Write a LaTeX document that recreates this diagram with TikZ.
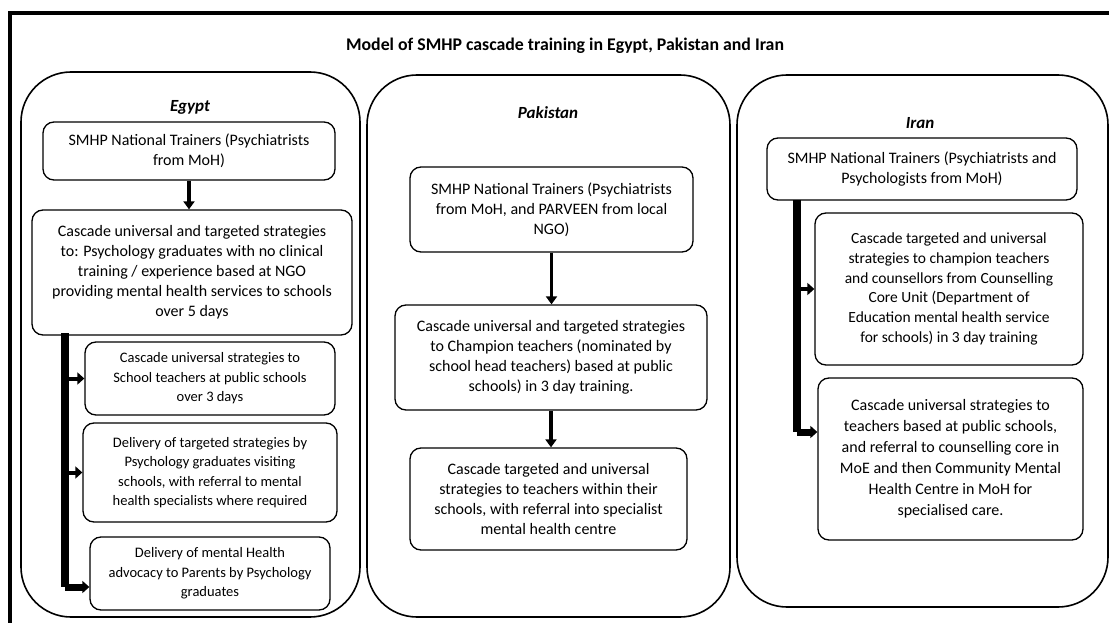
\documentclass[tikz,border=0pt]{standalone}
\usepackage{fontspec}
\setmainfont{Carlito}
\usetikzlibrary{arrows.meta}
\tikzset{panel/.style={draw, rounded corners=50pt, line width=1.6pt}}
\tikzset{paneltitle/.style={font=\fontsize{17}{19}\selectfont\bfseries\itshape}}
\tikzset{trainbox/.style={draw, rounded corners=11pt, line width=1.3pt, align=center, inner sep=2pt, font=\fontsize{16}{20}\selectfont}}
\tikzset{smalltext/.style={font=\fontsize{14.5}{19.4}\selectfont}}
\tikzset{flow/.style={line width=3.5pt, -{Triangle[width=11pt,length=8pt]}}}
\tikzset{bus/.style={line width=8pt}}
\tikzset{branch/.style={line width=4pt, -{Triangle[width=12pt,length=7pt]}}}

\begin{document}
\begin{tikzpicture}[x=1pt,y=-1pt]
  \useasboundingbox (0,0) rectangle (1109,623);
  \draw[line width=4pt] (10,623) -- (10,13) -- (1109,13);

  \node (title) at (565,46) [font=\fontsize{17.8}{20}\selectfont\bfseries] {Model of SMHP cascade training in Egypt, Pakistan and Iran};

  \node (egypt) at (190.5,344.5) [panel, minimum width=339pt, minimum height=545pt] {};
  \node (pakistan) at (548.5,346) [panel, minimum width=363pt, minimum height=542pt] {};
  \node (iran) at (922.5,341) [panel, minimum width=371pt, minimum height=532pt] {};

  \node (egyptT) at (190,107) [paneltitle] {Egypt};
  \node (pakistanT) at (548,113) [paneltitle] {Pakistan};
  \node (iranT) at (920,123) [paneltitle] {Iran};

  \node (E1) at (189,151) [trainbox, minimum width=292pt, minimum height=58pt] {SMHP National Trainers (Psychiatrists\\from MoH)};
  \node (E2) at (192,272.5) [trainbox, minimum width=320pt, minimum height=125pt] {Cascade universal and targeted strategies\\to: Psychology graduates with no clinical\\training / experience based at NGO\\providing mental health services to schools\\over 5 days};
  \node (E3) at (210,378.5) [trainbox, smalltext, minimum width=250pt, minimum height=73pt] {Cascade universal strategies to\\School teachers at public schools\\over 3 days};
  \node (E4) at (210,472.5) [trainbox, smalltext, minimum width=254pt, minimum height=99pt] {Delivery of targeted strategies by\\Psychology graduates visiting\\schools, with referral to mental\\health specialists where required};
  \node (E5) at (210,573.5) [trainbox, smalltext, minimum width=240pt, minimum height=73pt] {Delivery of mental Health\\advocacy to Parents by Psychology\\graduates};

  \node (P1) at (551.5,209.5) [trainbox, minimum width=283pt, minimum height=85pt] {SMHP National Trainers (Psychiatrists\\from MoH, and PARVEEN from local\\NGO)};
  \node (P2) at (551,357.5) [trainbox, minimum width=312pt, minimum height=105pt] {Cascade universal and targeted strategies\\to Champion teachers (nominated by\\school head teachers) based at public\\schools) in 3 day training.};
  \node (P3) at (548.5,499) [trainbox, minimum width=277pt, minimum height=102pt] {Cascade targeted and universal\\strategies to teachers within their\\schools, with referral into specialist\\mental health centre};

  \node (I1) at (922,169) [trainbox, minimum width=310pt, minimum height=62pt] {SMHP National Trainers (Psychiatrists and\\Psychologists from MoH)};
  \node (I2) at (949,289) [trainbox, font=\fontsize{15.5}{19.8}\selectfont, minimum width=268pt, minimum height=152pt] {Cascade targeted and universal\\strategies to champion teachers\\and counsellors from Counselling\\Core Unit (Department of\\Education mental health service\\for schools) in 3 day training};
  \node (I3) at (950.5,459) [trainbox, font=\fontsize{16}{21}\selectfont, minimum width=265pt, minimum height=162pt] {Cascade universal strategies to\\teachers based at public schools,\\and referral to counselling core in\\MoE and then Community Mental\\Health Centre in MoH for\\specialised care.};

  \coordinate (eTop) at (65,333);
  \coordinate (eEnd) at (65,587);
  \coordinate (iTop) at (797,200);
  \coordinate (iEnd) at (797,432);

  \draw[flow] (E1.south) -- (E1.south |- E2.north);
  \draw[bus] (eTop) -- (eEnd);
  \draw[branch] (eTop |- E3.west) -- (E3.west);
  \draw[branch] (eTop |- E4.west) -- (E4.west);
  \draw[branch, line width=7pt] (eEnd) -- (eEnd -| E5.west);

  \draw[flow] (P1.south) -- (P1.south |- P2.north);
  \draw[flow] (P2.south) -- (P2.south |- P3.north);

  \draw[bus] (iTop) -- (iEnd);
  \draw[branch] (iTop |- I2.west) -- (I2.west);
  \draw[branch, line width=7pt] (iEnd) -- (iEnd -| I3.west);
\end{tikzpicture}
\end{document}
